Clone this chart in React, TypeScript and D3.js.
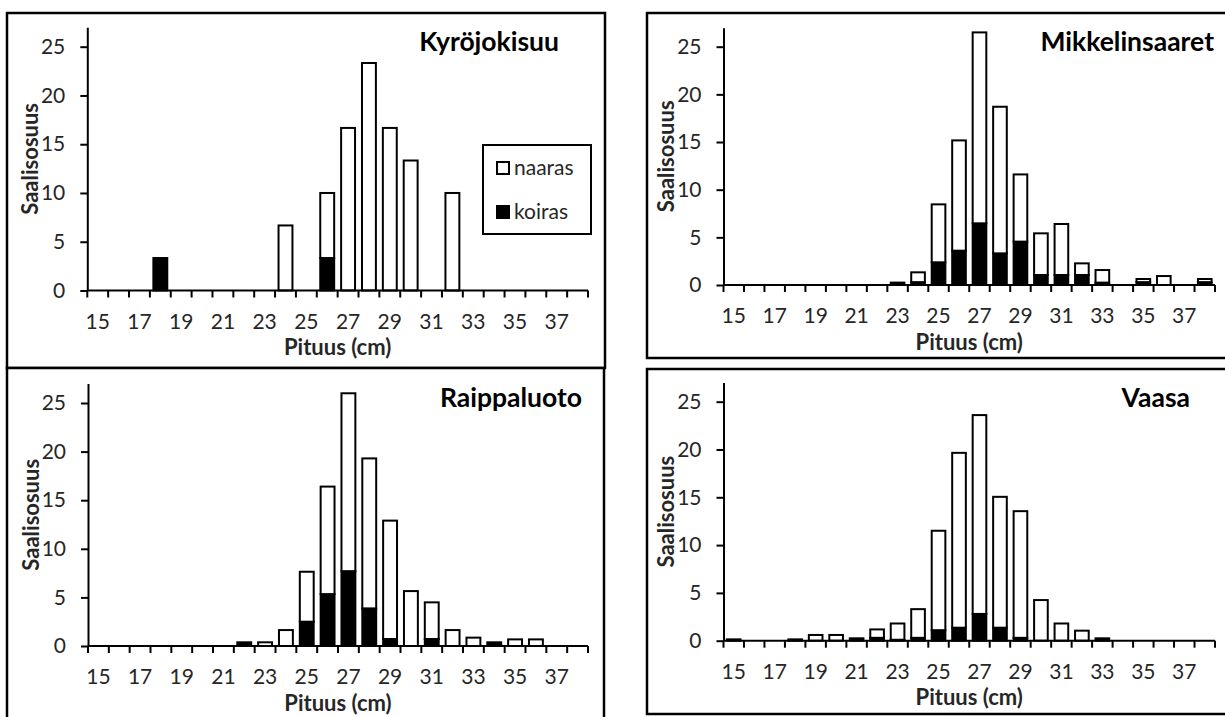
import React, { useEffect, useRef } from 'react';
import * as d3 from 'd3';

// Pituusluokat (cm)
const categories = [15, 16, 17, 18, 19, 20, 21, 22, 23, 24, 25, 26, 27, 28, 29, 30, 31, 32, 33, 34, 35, 36, 37, 38];
const xTickLabels = [15, 17, 19, 21, 23, 25, 27, 29, 31, 33, 35, 37];
const yTicks = [0, 5, 10, 15, 20, 25];
const yMax = 27;

// Saalisosuus (%) per pituusluokka
const kyroKoiras = [0, 0, 0, 3.33, 0, 0, 0, 0, 0, 0, 0, 3.33, 0, 0, 0, 0, 0, 0, 0, 0, 0, 0, 0, 0];
const kyroNaaras = [0, 0, 0, 0, 0, 0, 0, 0, 0, 6.67, 0, 6.67, 16.67, 23.33, 16.67, 13.33, 0, 10, 0, 0, 0, 0, 0, 0];

const mikKoiras = [0, 0, 0, 0, 0, 0, 0, 0, 0.25, 0.3, 2.38, 3.6, 6.47, 3.32, 4.55, 1.05, 1.05, 1.05, 0.25, 0, 0.3, 0, 0, 0.3];
const mikNaaras = [0, 0, 0, 0, 0, 0, 0, 0, 0, 1.03, 6.08, 11.57, 20.03, 15.38, 7.05, 4.37, 5.35, 1.22, 1.32, 0, 0.33, 0.94, 0, 0.33];

const raiKoiras = [0, 0, 0, 0, 0, 0, 0, 0.38, 0, 0, 2.5, 5.34, 7.7, 3.87, 0.72, 0, 0.72, 0, 0, 0.38, 0, 0, 0, 0];
const raiNaaras = [0, 0, 0, 0, 0, 0, 0, 0, 0.38, 1.64, 5.14, 11.06, 18.3, 15.43, 12.18, 5.65, 3.77, 1.64, 0.86, 0, 0.68, 0.68, 0, 0];

const vaaKoiras = [0.14, 0, 0, 0.14, 0, 0, 0.25, 0.3, 0.1, 0.3, 1.1, 1.36, 2.8, 1.36, 0.3, 0, 0, 0, 0.25, 0, 0, 0, 0, 0];
const vaaNaaras = [0, 0, 0, 0, 0.6, 0.6, 0, 0.88, 1.7, 3.0, 10.4, 18.29, 20.8, 13.69, 13.25, 4.25, 1.8, 1.05, 0, 0, 0, 0, 0, 0];

const FONT = "Lato, 'Open Sans', sans-serif";
const TEXT = '#262626';

const panels = [
  { title: 'Kyröjokisuu', koiras: kyroKoiras, naaras: kyroNaaras, legend: true,
    box: [7, 13, 605, 368], left: 87.3, right: 588, y0: 290.5, y25: 46.7, titleX: 559, titleY: 42 },
  { title: 'Mikkelinsaaret', koiras: mikKoiras, naaras: mikNaaras, legend: false,
    box: [647, 13, 1235, 358], left: 723.5, right: 1215, y0: 285, y25: 46.7, titleX: 1214, titleY: 42 },
  { title: 'Raippaluoto', koiras: raiKoiras, naaras: raiNaaras, legend: false,
    box: [7, 368, 604, 725], left: 88, right: 588, y0: 646, y25: 403, titleX: 582, titleY: 398 },
  { title: 'Vaasa', koiras: vaaKoiras, naaras: vaaNaaras, legend: false,
    box: [647, 369, 1235, 714], left: 723.5, right: 1215, y0: 640.7, y25: 401.7, titleX: 1190, titleY: 398 },
];

const App = () => {
  const ref = useRef<SVGSVGElement>(null);

  useEffect(() => {
    const svg = d3.select(ref.current);
    svg.selectAll('*').remove();

    panels.forEach((p) => {
      const g = svg.append('g');
      const [bx0, by0, bx1, by1] = p.box;

      g.append('rect')
        .attr('x', bx0).attr('y', by0)
        .attr('width', bx1 - bx0).attr('height', by1 - by0)
        .attr('fill', 'white').attr('stroke', 'black').attr('stroke-width', 2.5);

      const unit = (p.y0 - p.y25) / 25;
      const y = d3.scaleLinear().domain([0, yMax]).range([p.y0, p.y0 - yMax * unit]);
      const x = d3.scaleBand<number>().domain(categories).range([p.left, p.right])
        .paddingInner(1 / 3).paddingOuter(1 / 6);
      const gap = (x.step() - x.bandwidth()) / 2;

      // pinotut pylväät: koiras alla, naaras päällä
      const rows = categories.map((c, i) => ({ c, k: p.koiras[i], n: p.naaras[i] }));
      g.selectAll('rect.k').data(rows.filter((d) => d.k > 0)).enter().append('rect')
        .attr('x', (d) => x(d.c)!)
        .attr('y', (d) => y(d.k))
        .attr('width', x.bandwidth())
        .attr('height', (d) => y(0) - y(d.k))
        .attr('fill', 'black').attr('stroke', 'black').attr('stroke-width', 2);
      g.selectAll('rect.n').data(rows.filter((d) => d.n > 0)).enter().append('rect')
        .attr('x', (d) => x(d.c)!)
        .attr('y', (d) => y(d.k + d.n))
        .attr('width', x.bandwidth())
        .attr('height', (d) => y(d.k) - y(d.k + d.n))
        .attr('fill', 'white').attr('stroke', 'black').attr('stroke-width', 2);

      // y-akseli
      const yAxis = g.append('g')
        .attr('transform', `translate(${p.left},0)`)
        .call(d3.axisLeft(y).tickValues(yTicks).tickSize(7).tickSizeOuter(0).tickPadding(15));
      yAxis.select('.domain').attr('stroke-width', 2);
      yAxis.selectAll('.tick line').attr('stroke-width', 2);
      yAxis.selectAll('.tick text')
        .attr('font-family', FONT).attr('font-size', 21).attr('fill', TEXT);

      // x-akseli, väkäset luokkien rajoilla
      g.append('line')
        .attr('x1', p.left).attr('x2', p.right)
        .attr('y1', y(0)).attr('y2', y(0))
        .attr('stroke', 'black').attr('stroke-width', 2);
      const bounds = [...categories.map((c) => x(c)! - gap), p.right];
      g.selectAll('line.xt').data(bounds).enter().append('line')
        .attr('x1', (d) => d).attr('x2', (d) => d)
        .attr('y1', y(0)).attr('y2', y(0) + 7)
        .attr('stroke', 'black').attr('stroke-width', 2);
      g.selectAll('text.xl').data(xTickLabels).enter().append('text')
        .attr('x', (d) => x(d)! + x.bandwidth() / 2)
        .attr('y', y(0) + 31)
        .attr('dy', '0.35em')
        .attr('text-anchor', 'middle')
        .attr('font-family', FONT).attr('font-size', 21).attr('fill', TEXT)
        .text((d) => d);

      // akselien otsikot
      g.append('text')
        .attr('x', (p.left + p.right) / 2).attr('y', y(0) + 57).attr('dy', '0.35em')
        .attr('text-anchor', 'middle')
        .attr('font-family', FONT).attr('font-size', 22).attr('font-weight', 'bold').attr('fill', TEXT)
        .text('Pituus (cm)');
      const midY = (y(0) + y(yMax)) / 2;
      g.append('text')
        .attr('transform', `translate(${p.left - 57},${midY}) rotate(-90)`)
        .attr('dy', '0.35em')
        .attr('text-anchor', 'middle')
        .attr('font-family', FONT).attr('font-size', 22).attr('font-weight', 'bold').attr('fill', TEXT)
        .text('Saalisosuus');

      g.append('text')
        .attr('x', p.titleX).attr('y', p.titleY).attr('dy', '0.35em')
        .attr('text-anchor', 'end')
        .attr('font-family', FONT).attr('font-size', 26.5).attr('font-weight', 'bold').attr('fill', 'black')
        .text(p.title);

      if (p.legend) {
        const lg = g.append('g');
        lg.append('rect').attr('x', 483).attr('y', 145).attr('width', 108).attr('height', 89)
          .attr('fill', 'white').attr('stroke', 'black').attr('stroke-width', 2);
        const items = [
          { label: 'naaras', fill: 'white', cy: 168 },
          { label: 'koiras', fill: 'black', cy: 212 },
        ];
        items.forEach((it) => {
          lg.append('rect').attr('x', 497).attr('y', it.cy - 6).attr('width', 12).attr('height', 12)
            .attr('fill', it.fill).attr('stroke', 'black').attr('stroke-width', 2);
          lg.append('text').attr('x', 514).attr('y', it.cy).attr('dy', '0.35em')
            .attr('font-family', FONT).attr('font-size', 21).attr('fill', TEXT)
            .text(it.label);
        });
      }
    });
  }, []);

  return (
    <svg ref={ref} width={1225} height={717}
      style={{ position: 'absolute', left: 0, top: 0, background: 'white' }} />
  );
};

export default App;
